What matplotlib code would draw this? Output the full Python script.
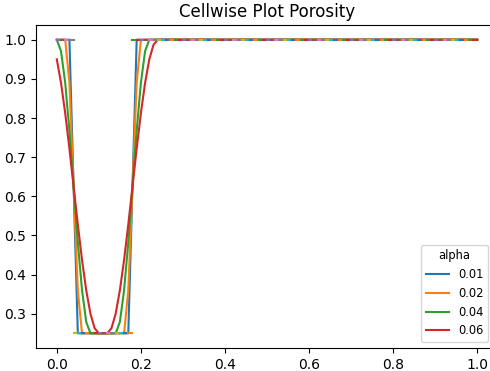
import numpy as np
import matplotlib
matplotlib.use("Agg")
import matplotlib.pyplot as plt

# sample points along the domain (plateau after 0.24 is flat at 1.0)
x_pts = [0.00, 0.01, 0.02, 0.03, 0.04, 0.05, 0.06, 0.07, 0.08, 0.09,
         0.10, 0.11, 0.12, 0.13, 0.14, 0.15, 0.16, 0.17, 0.18, 0.19,
         0.20, 0.21, 0.22, 0.23, 0.24, 1.00]

alphas = ["0.01", "0.02", "0.04", "0.06"]

phi_001 = [1.0, 1.0, 1.0, 1.0, 0.625, 0.25, 0.25, 0.25, 0.25, 0.25,
           0.25, 0.25, 0.25, 0.25, 0.25, 0.25, 0.25, 0.25, 0.625, 1.0,
           1.0, 1.0, 1.0, 1.0, 1.0, 1.0]
phi_002 = [1.0, 1.0, 1.0, 0.890, 0.625, 0.360, 0.25, 0.25, 0.25, 0.25,
           0.25, 0.25, 0.25, 0.25, 0.25, 0.25, 0.25, 0.360, 0.625, 0.890,
           1.0, 1.0, 1.0, 1.0, 1.0, 1.0]
phi_004 = [1.0, 0.971, 0.890, 0.768, 0.625, 0.482, 0.360, 0.279, 0.25, 0.25,
           0.25, 0.25, 0.25, 0.25, 0.25, 0.279, 0.360, 0.482, 0.625, 0.768,
           0.890, 0.971, 1.0, 1.0, 1.0, 1.0]
phi_006 = [0.950, 0.890, 0.8125, 0.722, 0.625, 0.528, 0.4375, 0.360, 0.300, 0.263,
           0.25, 0.25, 0.25, 0.263, 0.300, 0.360, 0.4375, 0.528, 0.625, 0.722,
           0.8125, 0.890, 0.950, 0.987, 1.0, 1.0]

# cellwise porosity, 100 cells on [0, 1]
cell_porosity = [1.0] * 4 + [0.25] * 14 + [1.0] * 82

fig = plt.figure(figsize=(4.9, 3.71), dpi=100)
ax = fig.add_axes([0.073, 0.062, 0.944, 0.8705])

for a, phi in zip(alphas, [phi_001, phi_002, phi_004, phi_006]):
    ax.plot(x_pts, phi, label=a)

# one short line per cell, colours keep cycling
edges = np.linspace(0, 1, len(cell_porosity) + 1)
for i, v in enumerate(cell_porosity):
    ax.plot([edges[i], edges[i + 1]], [v, v])

ax.set_title("Cellwise Plot Porosity")
handles, labels = ax.get_legend_handles_labels()
ax.legend(handles[:4], labels[:4], title="alpha", loc="lower right",
          fontsize=8.3, title_fontsize=8.3,
          bbox_to_anchor=(488 / 490, 29 / 371), bbox_transform=fig.transFigure,
          borderaxespad=0)

fig.savefig("out.png", dpi=100)
